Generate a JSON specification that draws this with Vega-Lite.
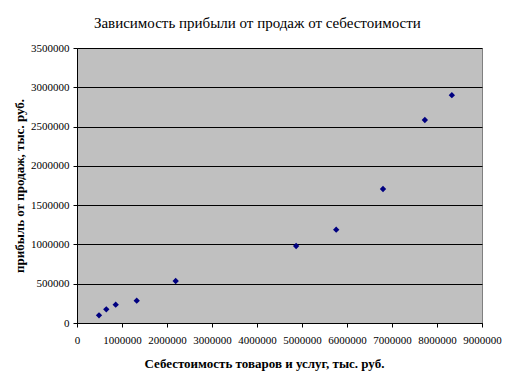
{
  "$schema": "https://vega.github.io/schema/vega-lite/v6.json",
  "width": 405,
  "height": 275,
  "autosize": {"type": "none"},
  "padding": {"left": 77, "top": 48, "right": 28, "bottom": 64},
  "background": "white",
  "title": {
    "text": "Зависимость прибыли от продаж от себестоимости",
    "font": "Liberation Serif",
    "fontSize": 15,
    "fontWeight": "normal",
    "color": "black",
    "anchor": "middle",
    "frame": "bounds",
    "offset": 11
  },
  "data": {
    "values": [
      {"cost": 489000, "profit": 98000},
      {"cost": 651000, "profit": 174000},
      {"cost": 860000, "profit": 233000},
      {"cost": 1327000, "profit": 284000},
      {"cost": 2193000, "profit": 535000},
      {"cost": 4870000, "profit": 980000},
      {"cost": 5760000, "profit": 1188000},
      {"cost": 6800000, "profit": 1705000},
      {"cost": 7730000, "profit": 2584000},
      {"cost": 8330000, "profit": 2900000}
    ]
  },
  "mark": {"type": "point", "shape": "diamond", "filled": true, "color": "#000080", "size": 40, "opacity": 1},
  "encoding": {
    "x": {
      "field": "cost",
      "type": "quantitative",
      "scale": {"domain": [0, 9000000], "nice": false, "zero": true},
      "axis": {
        "title": "Себестоимость товаров и услуг, тыс. руб.",
        "values": [0, 1000000, 2000000, 3000000, 4000000, 5000000, 6000000, 7000000, 8000000, 9000000],
        "format": "d",
        "grid": false,
        "labelFlush": false,
        "labelPadding": 7,
        "titlePadding": 12,
        "titleFontSize": 13,
        "titleX": 187,
        "labelOverlap": false
      }
    },
    "y": {
      "field": "profit",
      "type": "quantitative",
      "scale": {"domain": [0, 3500000], "nice": false},
      "axis": {
        "title": "прибыль от продаж, тыс. руб.",
        "values": [0, 500000, 1000000, 1500000, 2000000, 2500000, 3000000, 3500000],
        "format": "d",
        "grid": true,
        "gridColor": "black",
        "gridOpacity": 1,
        "gridWidth": 1,
        "labelFlush": false,
        "labelPadding": 4,
        "titlePadding": 4,
        "titleFontSize": 13
      }
    }
  },
  "config": {
    "view": {"fill": "#C0C0C0", "stroke": "#808080", "strokeWidth": 1},
    "axis": {
      "labelFont": "Liberation Serif",
      "labelFontSize": 11,
      "labelColor": "black",
      "titleFont": "Liberation Serif",
      "titleFontSize": 12,
      "titleFontWeight": "bold",
      "titleColor": "black",
      "domainColor": "black",
      "tickColor": "black",
      "tickSize": 4,
      "domainWidth": 1,
      "tickWidth": 1
    }
  }
}
